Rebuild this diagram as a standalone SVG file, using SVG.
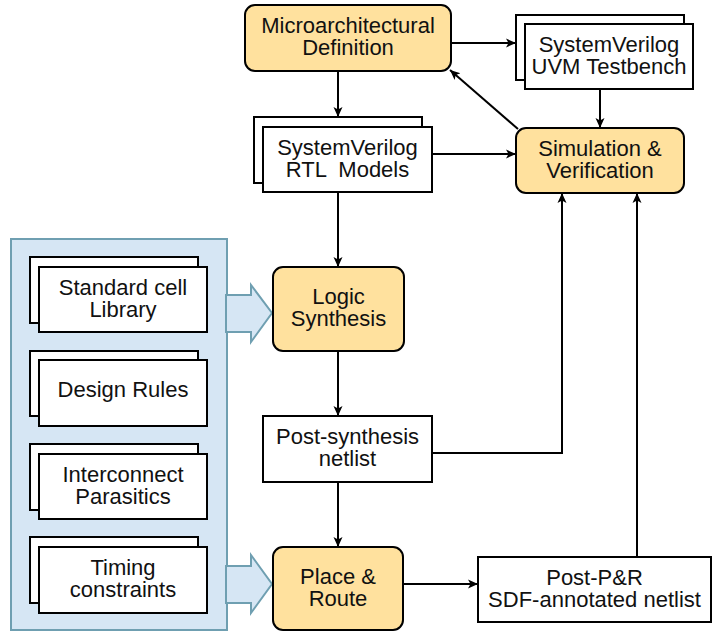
<svg xmlns="http://www.w3.org/2000/svg" width="712" height="632" viewBox="0 0 712 632">
  <style>
    .proc { fill: #ffe19e; stroke: #000; stroke-width: 2; }
    .doc { fill: #fff; stroke: #000; stroke-width: 2; }
    .lbl { font-family: "Liberation Sans", Arial, sans-serif; font-size: 22px; fill: #111; text-anchor: middle; white-space: pre; }
    .wire { fill: none; stroke: #000; stroke-width: 2; }
    .panel { fill: #d6e6f4; stroke: #6f9fb1; stroke-width: 2; }
  </style>
  <defs>
    <marker id="arrow" markerUnits="userSpaceOnUse" markerWidth="12" markerHeight="10" refX="10" refY="5" orient="auto">
      <path d="M0 0.5 L10 5 L0 9.5 L2.5 5 z" fill="#000"/>
    </marker>
  </defs>

  <!-- library inputs panel -->
  <g id="inputs-panel">
    <rect class="panel" x="11" y="239" width="216" height="391"/>
    <polygon class="panel" points="226,295 251,295 251,285 272,313 251,342 251,332 226,332"/>
    <polygon class="panel" points="226,566 251,566 251,555 272,584 251,613 251,603 226,603"/>
  </g>

  <g id="std-cell-lib">
    <rect class="doc" x="30" y="257" width="168" height="66"/>
    <rect class="doc" x="39" y="267" width="168" height="65"/>
    <text class="lbl" x="123" y="294.5">Standard cell</text>
    <text class="lbl" x="123" y="316.5">Library</text>
  </g>
  <g id="design-rules">
    <rect class="doc" x="30" y="351" width="168" height="65"/>
    <rect class="doc" x="39" y="360" width="168" height="66"/>
    <text class="lbl" x="123" y="397">Design Rules</text>
  </g>
  <g id="parasitics">
    <rect class="doc" x="30" y="444" width="168" height="66"/>
    <rect class="doc" x="39" y="454" width="168" height="65"/>
    <text class="lbl" x="123" y="481.5">Interconnect</text>
    <text class="lbl" x="123" y="503.5">Parasitics</text>
  </g>
  <g id="timing">
    <rect class="doc" x="30" y="537" width="168" height="66"/>
    <rect class="doc" x="39" y="547" width="168" height="66"/>
    <text class="lbl" x="123" y="575">Timing</text>
    <text class="lbl" x="123" y="597">constraints</text>
  </g>

  <!-- flow nodes -->
  <g id="micro-def">
    <rect class="proc" x="245" y="5" width="206" height="66" rx="10"/>
    <text class="lbl" x="348" y="33">Microarchitectural</text>
    <text class="lbl" x="348" y="55">Definition</text>
  </g>
  <g id="uvm-tb">
    <rect class="doc" x="516" y="15" width="168" height="65"/>
    <rect class="doc" x="525" y="24" width="168" height="65"/>
    <text class="lbl" x="609" y="51.5">SystemVerilog</text>
    <text class="lbl" x="609" y="73.5">UVM Testbench</text>
  </g>
  <g id="rtl-models">
    <rect class="doc" x="254" y="117" width="168" height="66"/>
    <rect class="doc" x="263" y="127" width="169" height="65"/>
    <text class="lbl" x="347.5" y="154.5">SystemVerilog</text>
    <text class="lbl" x="347.5" y="176.5">RTL  Models</text>
  </g>
  <g id="sim-verif">
    <rect class="proc" x="516" y="128" width="168" height="65" rx="10"/>
    <text class="lbl" x="600" y="155.5">Simulation &amp;</text>
    <text class="lbl" x="600" y="177.5">Verification</text>
  </g>
  <g id="logic-synth">
    <rect class="proc" x="273" y="267" width="131" height="84" rx="10"/>
    <text class="lbl" x="338.5" y="304">Logic</text>
    <text class="lbl" x="338.5" y="326">Synthesis</text>
  </g>
  <g id="post-synth">
    <rect class="doc" x="263" y="416" width="169" height="66"/>
    <text class="lbl" x="347.5" y="444">Post-synthesis</text>
    <text class="lbl" x="347.5" y="466">netlist</text>
  </g>
  <g id="place-route">
    <rect class="proc" x="273" y="547" width="130" height="83" rx="10"/>
    <text class="lbl" x="338" y="584">Place &amp;</text>
    <text class="lbl" x="338" y="606">Route</text>
  </g>
  <g id="post-pr">
    <rect class="doc" x="478" y="557" width="233" height="65"/>
    <text class="lbl" x="594.5" y="584.5">Post-P&amp;R</text>
    <text class="lbl" x="594.5" y="606.5">SDF-annotated netlist</text>
  </g>

  <!-- connectors -->
  <g id="connectors" class="wire" marker-end="url(#arrow)">
    <path d="M338 71 V117"/>
    <path d="M451 43 H516"/>
    <path d="M600 89 V128"/>
    <path d="M432 154 H516"/>
    <path d="M518 129 L450 70"/>
    <path d="M338 192 V267"/>
    <path d="M338 351 V416"/>
    <path d="M432 453 H562 V193"/>
    <path d="M338 482 V547"/>
    <path d="M403 584 H478"/>
    <path d="M637 557 V193"/>
  </g>
</svg>
